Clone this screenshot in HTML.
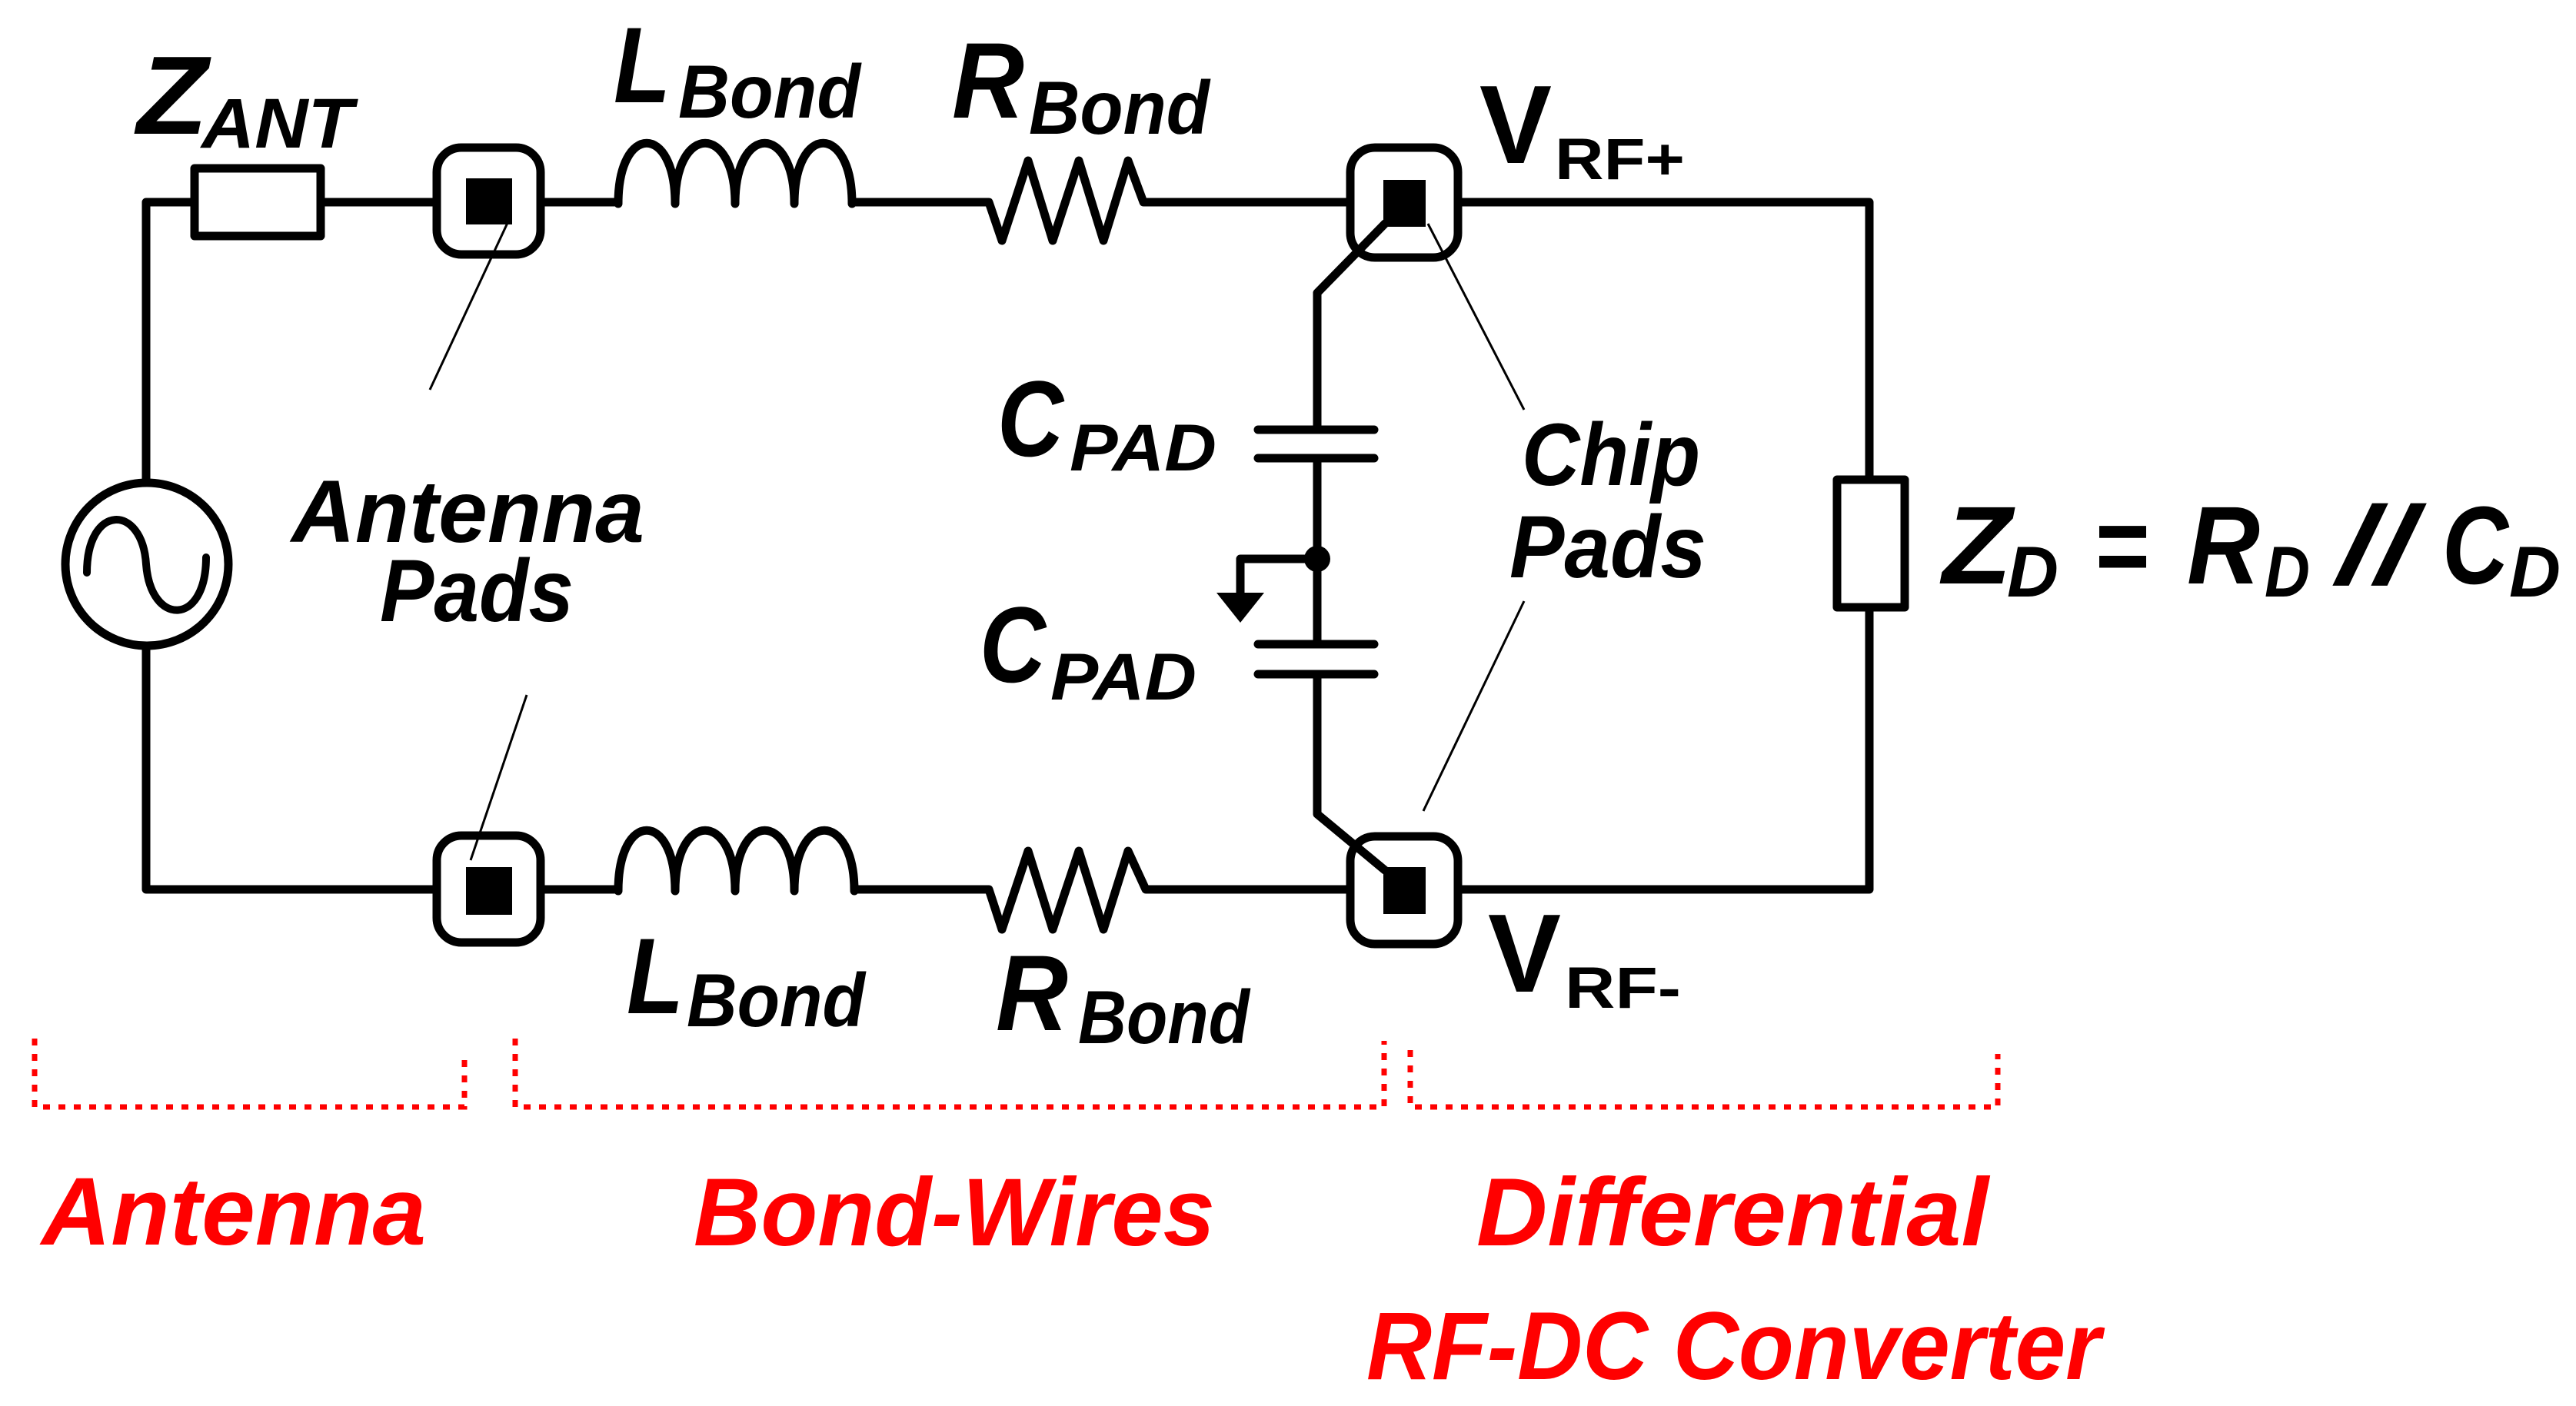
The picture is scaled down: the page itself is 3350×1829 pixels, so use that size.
<!DOCTYPE html>
<html><head><meta charset="utf-8"><style>
html,body{margin:0;padding:0;background:#fff;}
svg{display:block;}
text{font-family:"Liberation Sans",sans-serif;font-weight:bold;font-style:italic;fill:#000;}
.r{fill:#ff0000;}
</style></head><body>
<svg width="3350" height="1829" viewBox="0 0 3350 1829" xmlns="http://www.w3.org/2000/svg">
<g fill="none" stroke="#000" stroke-width="11" stroke-linejoin="round" stroke-linecap="round">
<!-- left loop -->
<polyline points="568,263 417,263"/>
<rect x="253" y="219" width="164" height="88"/>
<polyline points="253,263 190,263 190,628"/>
<polyline points="190,840 190,1157 568,1157"/>
<circle cx="191" cy="734" r="106"/>
<path d="M113,745 C113,655 185,655 190,734 C196,815 268,815 268,725" stroke-width="10"/>
<!-- pads -->
<rect x="568" y="192" width="135" height="139" rx="32"/>
<rect x="568" y="1087" width="135" height="139" rx="32"/>
<rect x="1756" y="192" width="140" height="143" rx="32"/>
<rect x="1756" y="1088" width="140" height="140" rx="32"/>
<!-- top series -->
<polyline points="703,263 804,263"/>
<path d="M804,265 C804,160 878,160 878,265 C878,160 956,160 956,265 C956,160 1033,160 1033,265 C1033,160 1108,160 1108,265"/>
<polyline points="1108,263 1286,263 1303,313 1337,209 1369,313 1403,209 1435,313 1467,209 1487,263 1756,263"/>
<!-- bottom series -->
<polyline points="703,1157 804,1157"/>
<path d="M804,1159 C804,1054 878,1054 878,1159 C878,1054 956,1054 956,1159 C956,1054 1033,1054 1033,1159 C1033,1054 1111,1054 1111,1159"/>
<polyline points="1111,1157 1286,1157 1303,1209 1337,1107 1369,1209 1403,1107 1435,1209 1467,1107 1490,1157 1756,1157"/>
<!-- right loop -->
<polyline points="1896,263 2431,263 2431,622"/>
<rect x="2389" y="624" width="88" height="166"/>
<polyline points="2431,792 2431,1157 1896,1157"/>
<!-- cap column -->
<polyline points="1801,291 1713,381 1713,559"/>
<polyline points="1713,596 1713,838"/>
<polyline points="1713,877 1713,1059 1801,1132"/>
<line x1="1636" y1="559" x2="1787" y2="559"/>
<line x1="1636" y1="596" x2="1787" y2="596"/>
<line x1="1636" y1="838" x2="1787" y2="838"/>
<line x1="1636" y1="877" x2="1787" y2="877"/>
<polyline points="1713,727 1613,727 1613,775"/>
</g>
<rect x="606" y="232" width="60" height="60" fill="#000"/>
<rect x="606" y="1128" width="60" height="62" fill="#000"/>
<rect x="1799" y="234" width="55" height="61" fill="#000"/>
<rect x="1799" y="1128" width="55" height="61" fill="#000"/>
<circle cx="1713" cy="727" r="17" fill="#000"/>
<polygon points="1582,771 1644,771 1613,810" fill="#000"/>
<!-- leaders -->
<g stroke="#000" stroke-width="3">
<line x1="660" y1="290" x2="559" y2="507"/>
<line x1="685" y1="904" x2="612" y2="1119"/>
<line x1="1857" y1="291" x2="1982" y2="533"/>
<line x1="1982" y1="782" x2="1851" y2="1055"/>
</g>
<!-- red brackets -->
<g fill="none" stroke="#ff0000" stroke-width="7" stroke-dasharray="9,11">
<polyline points="45,1351 45,1440 604,1440 604,1378"/>
<polyline points="670,1351 670,1440 1800,1440 1800,1354"/>
<polyline points="1834,1366 1834,1440 2598,1440 2598,1371"/>
</g>
<!-- labels -->
<text x="178" y="174" font-size="145" textLength="92" lengthAdjust="spacingAndGlyphs">Z</text>
<text x="262" y="192" font-size="92" textLength="197" lengthAdjust="spacingAndGlyphs">ANT</text>
<text x="798" y="133" font-size="140" textLength="74" lengthAdjust="spacingAndGlyphs">L</text>
<text x="882" y="153" font-size="98" textLength="237" lengthAdjust="spacingAndGlyphs">Bond</text>
<text x="1238" y="153" font-size="140" textLength="94" lengthAdjust="spacingAndGlyphs">R</text>
<text x="1338" y="174" font-size="98" textLength="235" lengthAdjust="spacingAndGlyphs">Bond</text>
<text x="815" y="1318" font-size="140" textLength="74" lengthAdjust="spacingAndGlyphs">L</text>
<text x="893" y="1335" font-size="98" textLength="232" lengthAdjust="spacingAndGlyphs">Bond</text>
<text x="1295" y="1340" font-size="140" textLength="94" lengthAdjust="spacingAndGlyphs">R</text>
<text x="1402" y="1357" font-size="98" textLength="223" lengthAdjust="spacingAndGlyphs">Bond</text>
<text x="1297" y="593" font-size="140" textLength="86" lengthAdjust="spacingAndGlyphs">C</text>
<text x="1391" y="612" font-size="86" textLength="191" lengthAdjust="spacingAndGlyphs">PAD</text>
<text x="1274" y="887" font-size="140" textLength="86" lengthAdjust="spacingAndGlyphs">C</text>
<text x="1366" y="910" font-size="86" textLength="190" lengthAdjust="spacingAndGlyphs">PAD</text>
<text x="379" y="705" font-size="115" textLength="459" lengthAdjust="spacingAndGlyphs">Antenna</text>
<text x="494" y="808" font-size="115" textLength="252" lengthAdjust="spacingAndGlyphs">Pads</text>
<text x="1979" y="631" font-size="115" textLength="232" lengthAdjust="spacingAndGlyphs">Chip</text>
<text x="1963" y="751" font-size="115" textLength="256" lengthAdjust="spacingAndGlyphs">Pads</text>
<text x="1924" y="212" font-size="145" font-style="normal" style="font-style:normal" textLength="94" lengthAdjust="spacingAndGlyphs">V</text>
<text x="2022" y="233" font-size="76" style="font-style:normal" textLength="169" lengthAdjust="spacingAndGlyphs">RF+</text>
<text x="1935" y="1290" font-size="145" style="font-style:normal" textLength="95" lengthAdjust="spacingAndGlyphs">V</text>
<text x="2035" y="1311" font-size="76" style="font-style:normal" textLength="151" lengthAdjust="spacingAndGlyphs">RF-</text>
<text x="2526" y="759" font-size="144" textLength="90" lengthAdjust="spacingAndGlyphs">Z</text>
<text x="2610" y="776" font-size="94" textLength="67" lengthAdjust="spacingAndGlyphs">D</text>
<text x="2725" y="759" font-size="144" style="font-style:normal" textLength="71" lengthAdjust="spacingAndGlyphs">=</text>
<text x="2844" y="759" font-size="144" textLength="95" lengthAdjust="spacingAndGlyphs">R</text>
<text x="2945" y="776" font-size="94" textLength="59" lengthAdjust="spacingAndGlyphs">D</text>
<text x="3040" y="759" font-size="144" textLength="100" lengthAdjust="spacingAndGlyphs">//</text>
<text x="3176" y="759" font-size="144" textLength="86" lengthAdjust="spacingAndGlyphs">C</text>
<text x="3263" y="776" font-size="94" textLength="67" lengthAdjust="spacingAndGlyphs">D</text>
<text class="r" x="54" y="1619" font-size="125" textLength="500" lengthAdjust="spacingAndGlyphs">Antenna</text>
<text class="r" x="902" y="1620" font-size="125" textLength="678" lengthAdjust="spacingAndGlyphs">Bond-Wires</text>
<text class="r" x="1920" y="1620" font-size="125" textLength="666" lengthAdjust="spacingAndGlyphs">Differential</text>
<text class="r" x="1777" y="1794" font-size="125" textLength="955" lengthAdjust="spacingAndGlyphs">RF-DC Converter</text>
</svg>
</body></html>
